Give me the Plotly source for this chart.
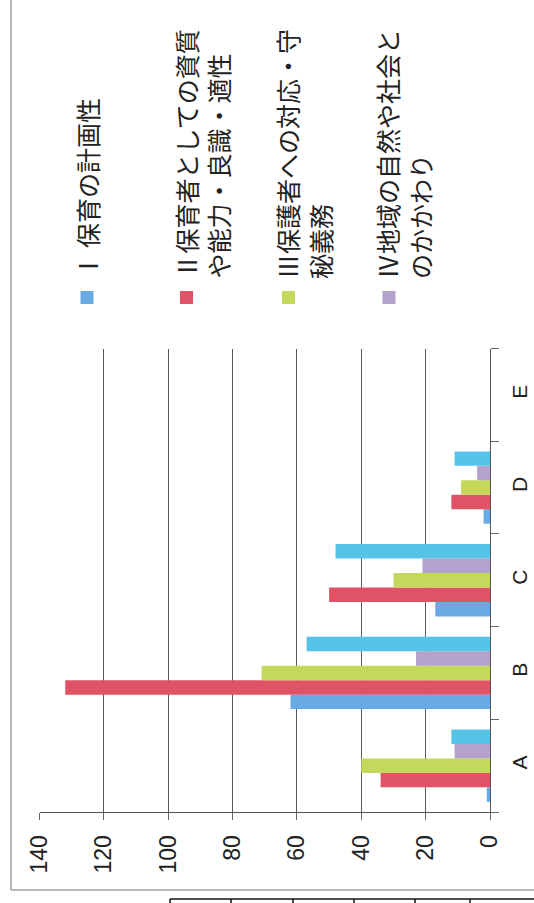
import plotly.graph_objects as go

# ---- data ----
categories = ["A", "B", "C", "D", "E"]
series_names = [
    "Ⅰ 保育の計画性",
    "Ⅱ保育者としての資質<br>や能力・良識・適性",
    "Ⅲ保護者への対応・守<br>秘義務",
    "Ⅳ地域の自然や社会と<br>のかかわり",
    "Ⅴ",
]
values_I = [1, 62, 17, 2, 0]
values_II = [34, 132, 50, 12, 0]
values_III = [40, 71, 30, 9, 0]
values_IV = [11, 23, 21, 4, 0]
values_V = [12, 57, 48, 11, 0]
series_values = [values_I, values_II, values_III, values_IV, values_V]
colors = ["#6aaae4", "#e05266", "#c4d95b", "#b4a2cc", "#57c3e6"]
legend_shown = [True, True, True, True, False]
value_ticks = [0, 20, 40, 60, 80, 100, 120, 140]

W, H = 534, 903


def px(x):
    return x / W


def py(y):
    return (H - y) / H


fig = go.Figure()
for name, vals, col in zip(series_names, series_values, colors):
    fig.add_trace(go.Bar(
        y=categories, x=vals, orientation="h", name=name,
        marker=dict(color=col, line=dict(width=0)),
        showlegend=False,
    ))

tick_font = dict(family="Liberation Sans, Arial, sans-serif", size=23, color="#222")

fig.update_layout(
    template="none",
    width=W, height=H,
    margin=dict(l=0, r=0, t=0, b=0, pad=0),
    paper_bgcolor="white", plot_bgcolor="white",
    barmode="group", bargap=0.22, bargroupgap=0,
    showlegend=False,
    xaxis=dict(
        domain=[px(39.5), px(490)], range=[140, 0],
        tickmode="array", tickvals=value_ticks,
        showgrid=True, gridcolor="#5a5a5a", gridwidth=1,
        zeroline=False, showline=True, linecolor="#555", linewidth=1,
        ticks="outside", ticklen=7, tickcolor="#666", tickwidth=1,
        tickangle=-90, tickfont=tick_font, automargin=False,
        ticklabelstandoff=6,
    ),
    yaxis=dict(
        domain=[py(812), py(348.5)], type="category",
        categoryorder="array", categoryarray=categories,
        side="right", showgrid=False, zeroline=False,
        showline=True, linecolor="#555", linewidth=1,
        ticks="outside", tickson="boundaries", ticklen=8,
        tickcolor="#666", tickwidth=1,
        tickangle=-90, tickfont=dict(tick_font, size=21), automargin=False,
        ticklabelstandoff=11,
    ),
)

# legend drawn as rotated text (as in the scanned, rotated page)
legend_x_text = [87, 202, 304, 404]
legend_x_swatch = [87, 186.5, 288.5, 389]
anns = []
shapes = []
k = 0
for name, col, show in zip(series_names, colors, legend_shown):
    if not show:
        continue
    anns.append(dict(
        xref="paper", yref="paper", x=px(legend_x_text[k]), y=py(281),
        xanchor="center", yanchor="bottom", text=name, showarrow=False,
        textangle=-90, align="left",
        font=dict(family="Noto Sans CJK JP", size=25, color="#222"),
    ))
    sx = legend_x_swatch[k]
    shapes.append(dict(
        type="rect", xref="paper", yref="paper",
        x0=px(sx - 6.5), x1=px(sx + 6.5), y0=py(304), y1=py(291),
        fillcolor=col, line=dict(width=0),
    ))
    k += 1

# page frame and table edge below the chart
frame = dict(color="#777", width=1)
shapes.append(dict(type="line", xref="paper", yref="paper",
                   x0=px(11), x1=px(11), y0=py(0), y1=py(890), line=frame))
shapes.append(dict(type="line", xref="paper", yref="paper",
                   x0=px(11), x1=px(534), y0=py(890), y1=py(890), line=frame))
tbl = dict(color="#111", width=1.5)
shapes.append(dict(type="line", xref="paper", yref="paper",
                   x0=px(170), x1=px(534), y0=py(899), y1=py(899), line=tbl))
for tx in [170, 231, 293, 354, 415, 470]:
    shapes.append(dict(type="line", xref="paper", yref="paper",
                       x0=px(tx), x1=px(tx), y0=py(899), y1=py(903), line=tbl))

fig.update_layout(annotations=anns, shapes=shapes)
fig.write_html(
    "out.html",
    config={"displayModeBar": False},
    post_script="document.body.style.margin='0';document.body.style.overflow='hidden';",
)
